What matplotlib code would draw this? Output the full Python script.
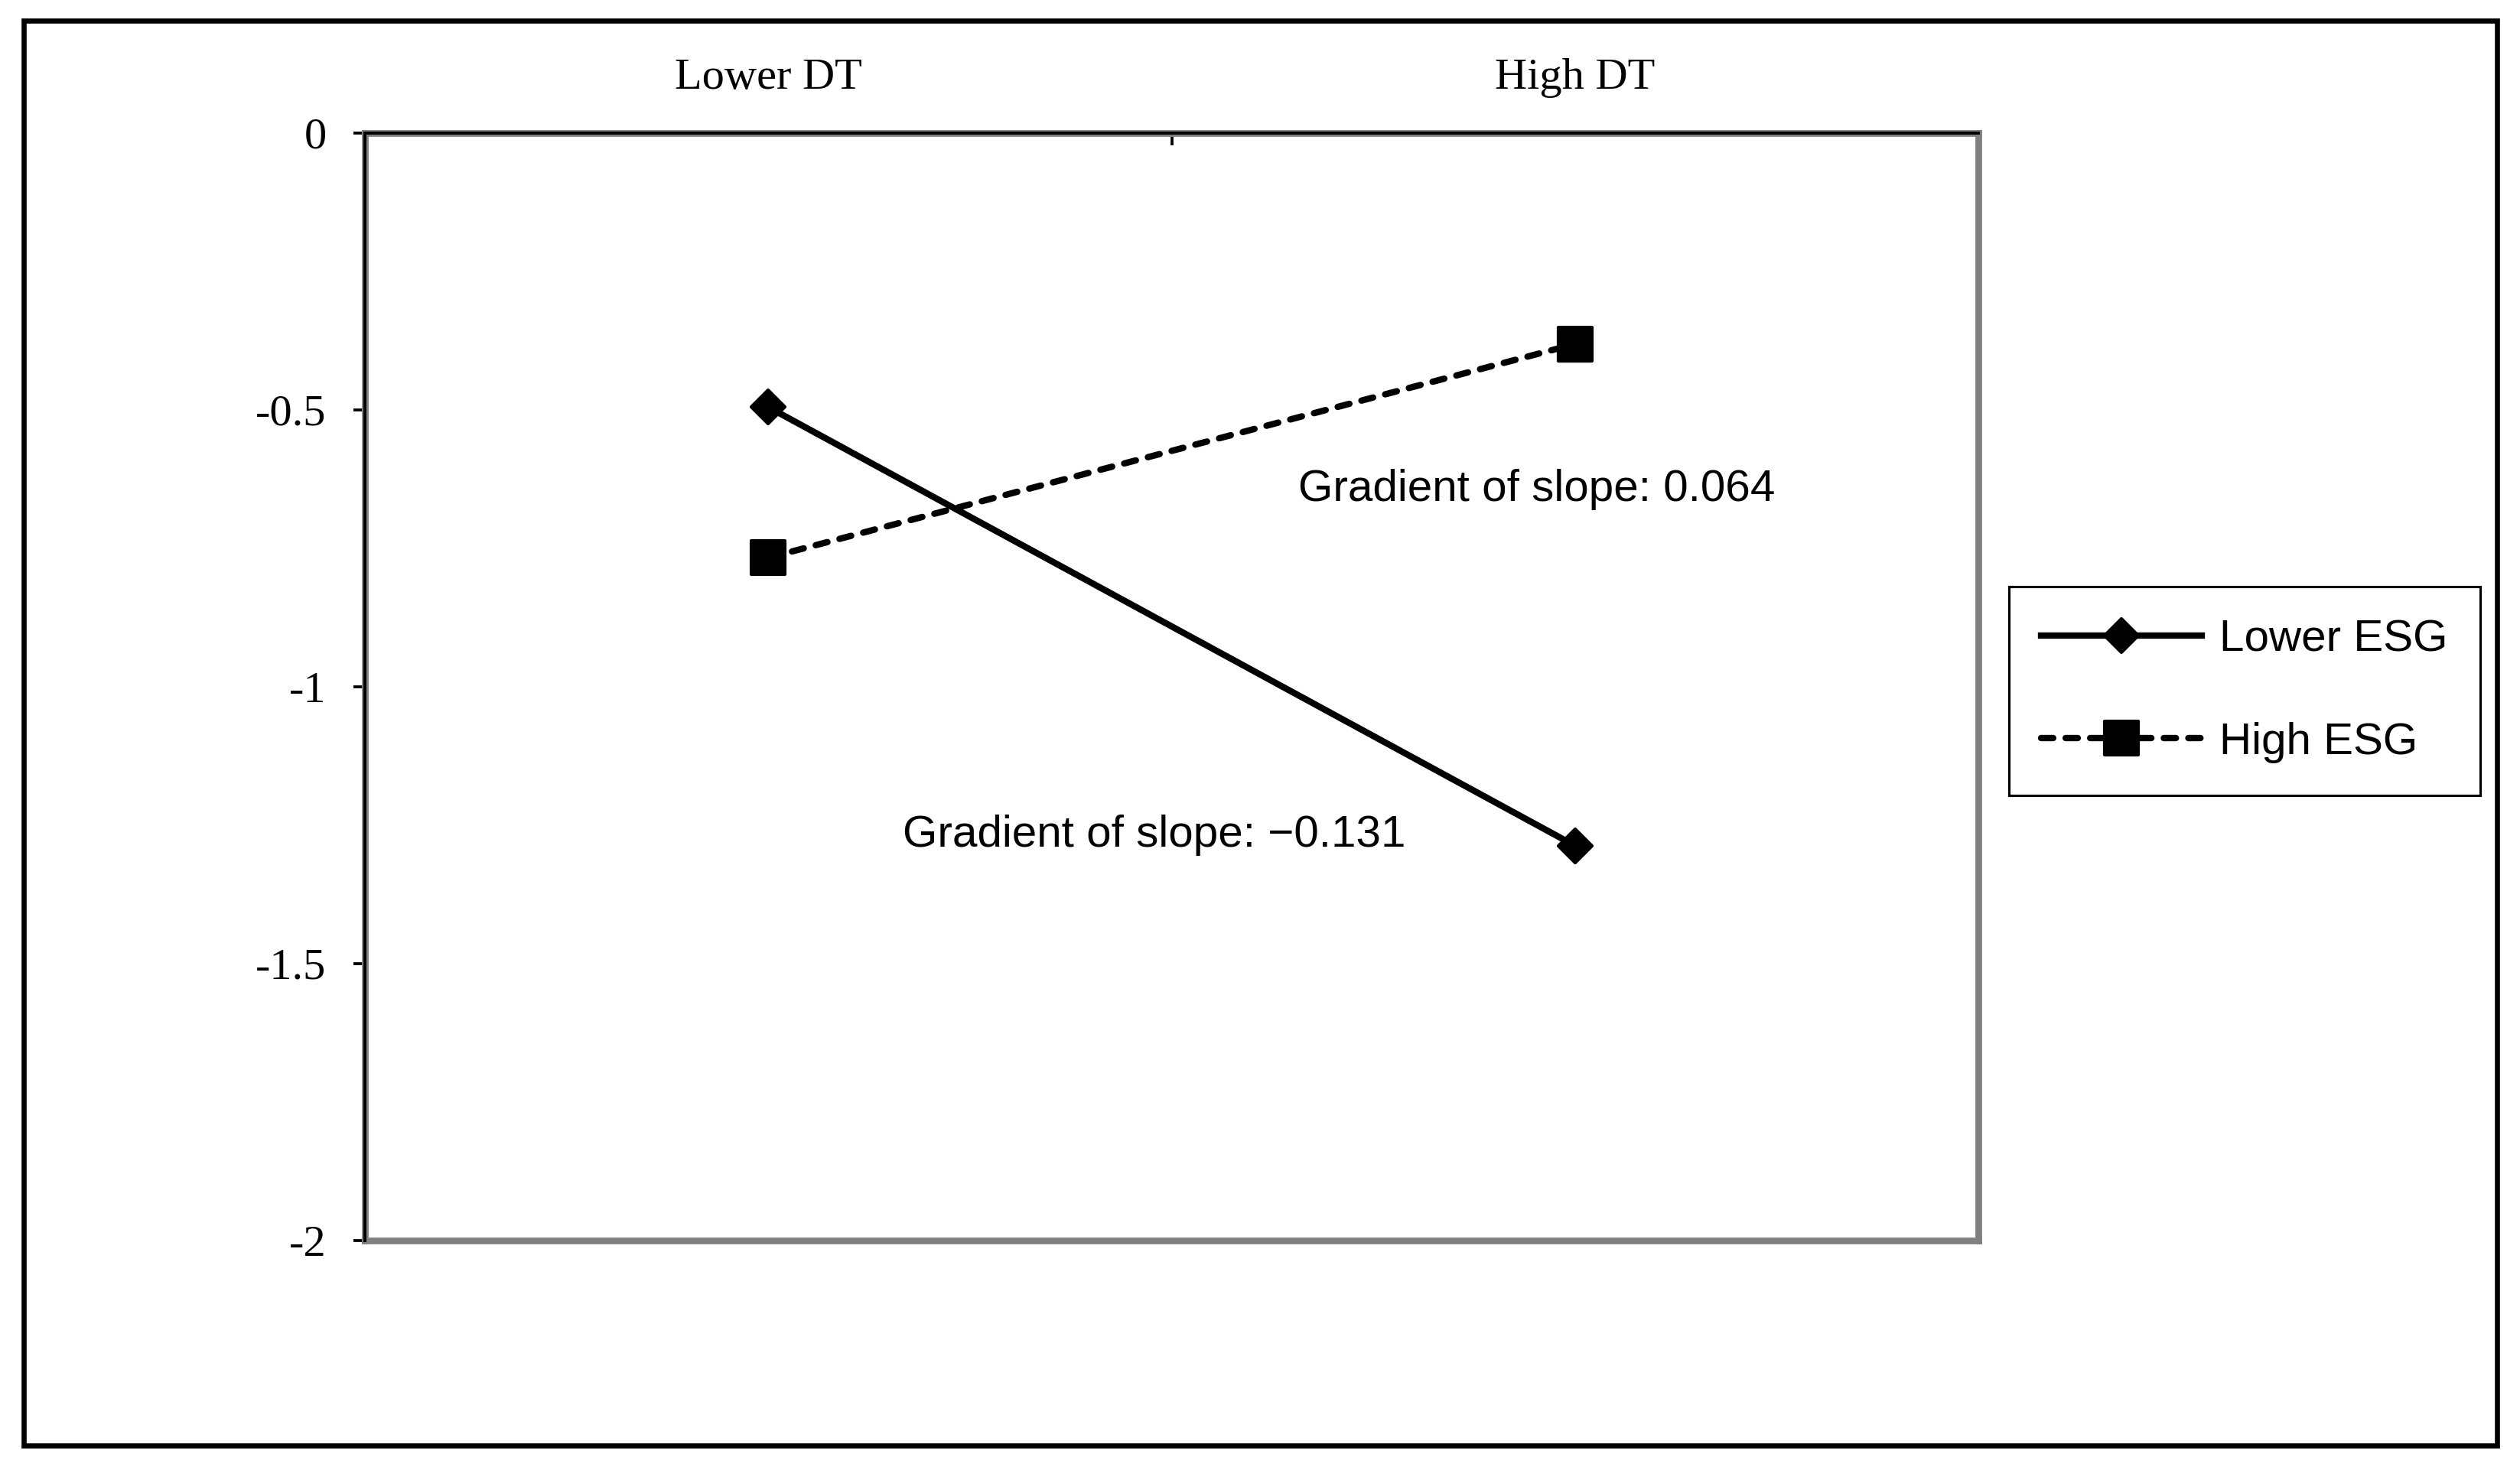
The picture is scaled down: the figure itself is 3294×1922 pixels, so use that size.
#!/usr/bin/env python3
"""
Simple slope plot: interaction of DT and ESG
"""

import matplotlib.pyplot as plt
from matplotlib.lines import Line2D
from matplotlib.markers import MarkerStyle
from matplotlib.patches import Rectangle
from matplotlib.ticker import FixedLocator

plt.rcParams['axes.unicode_minus'] = False

# Data
categories = ['Lower DT', 'High DT']
lower_esg = [-0.495, -1.287]
high_esg = [-0.767, -0.381]
series_names = ['Lower ESG', 'High ESG']
y_ticks = [0, -0.5, -1, -1.5, -2]
y_tick_labels = ['0', '-0.5', '-1', '-1.5', '-2']
notes = ['Gradient of slope: 0.064', 'Gradient of slope: \u22120.131']

serif = 'Liberation Serif'
sans = 'Liberation Sans'

fig = plt.figure(figsize=(10.98, 6.4067), dpi=300)
ax = fig.add_axes([0.1448, 0.1561, 0.6403, 0.7534])

x = list(range(len(categories)))

diamond = MarkerStyle('D', joinstyle='round')
square = MarkerStyle('s', joinstyle='round')

ax.plot(x, lower_esg, color='black', lw=2.0, marker=diamond, ms=7.6,
        mew=1.0, solid_capstyle='round', label=series_names[0])
ax.plot(x, high_esg, color='black', lw=2.0, marker=square, ms=10.5,
        mew=1.0, linestyle=(0, (1.9, 1.95)), dash_capstyle='round',
        label=series_names[1])

ax.set_xlim(-0.5, 1.5)
ax.set_ylim(-2, 0)

# Category axis sits on top (crosses at 0)
ax.xaxis.set_ticks_position('top')
ax.set_xticks(x)
ax.set_xticklabels(categories, fontfamily=serif, fontsize=14)
ax.tick_params(axis='x', which='major', length=0, pad=11)
ax.xaxis.set_minor_locator(FixedLocator([-0.5, 0.5, 1.5]))
ax.tick_params(axis='x', which='minor', direction='in', length=3.8,
               width=0.9, top=True, bottom=False)

ax.set_yticks(y_ticks)
ax.set_yticklabels(y_tick_labels, fontfamily=serif, fontsize=14)
ax.tick_params(axis='y', direction='out', length=3.6, width=0.9, pad=8.5)

# Excel-like plot area border: grey frame, black axis lines on top / left
for side in ['top', 'bottom', 'left', 'right']:
    ax.spines[side].set_color('#808080')
    ax.spines[side].set_linewidth(2.1)
ax.axhline(0, color='black', lw=0.95, clip_on=False, zorder=3)
ax.axvline(-0.5, color='black', lw=0.95, clip_on=False, zorder=3)

# Slope annotations
ax.text(0.657, -0.664, notes[0], fontfamily=sans, fontsize=14, va='baseline')
ax.text(0.167, -1.289, notes[1], fontfamily=sans, fontsize=14, va='baseline')

# Legend
handles = [
    Line2D([], [], color='black', lw=2.0, marker=diamond, ms=7.6, mew=1.0),
    Line2D([], [], color='black', lw=2.0, marker=square, ms=10.5, mew=1.0,
           linestyle=(0, (1.9, 1.95)), dash_capstyle='round'),
]
leg = fig.legend(handles, series_names, loc='upper left',
                 bbox_to_anchor=(0.7972, 0.6009), borderaxespad=0,
                 prop={'family': sans, 'size': 14}, frameon=True,
                 fancybox=False, framealpha=1, edgecolor='black',
                 handlelength=3.6, handletextpad=0.4, borderpad=0.72,
                 labelspacing=1.38)
leg.get_frame().set_linewidth(0.75)

# Outer border round the whole chart
fig.patches.append(Rectangle((0.00956, 0.01665), 0.98134, 0.96955,
                             transform=fig.transFigure, fill=False,
                             edgecolor='black', lw=1.6))

fig.savefig('out.png', dpi=300)
